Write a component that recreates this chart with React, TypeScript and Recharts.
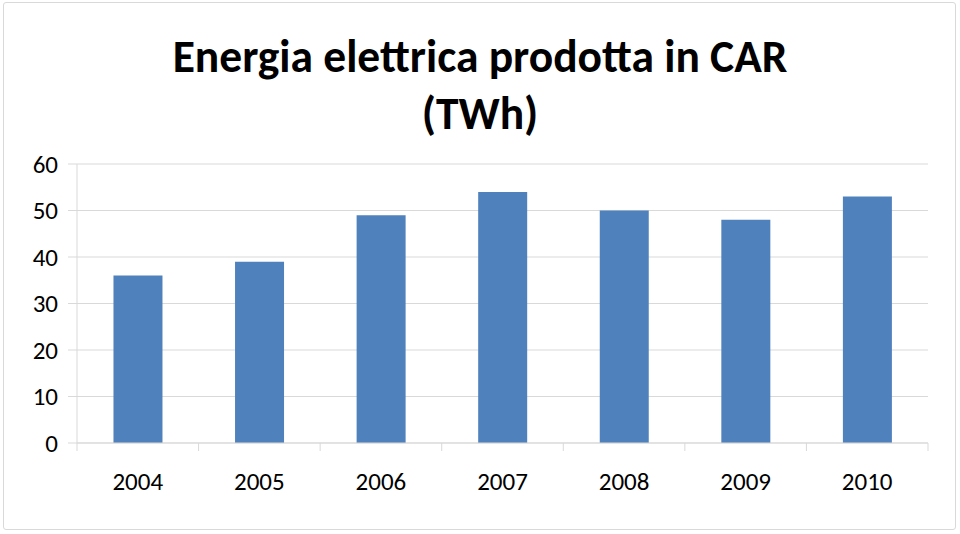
import React from 'react';
import { BarChart, Bar, XAxis, YAxis, CartesianGrid } from 'recharts';

const years = ['2004', '2005', '2006', '2007', '2008', '2009', '2010'];
const energyTWh = [36, 39, 49, 54, 50, 48, 53];
const yTicks = [0, 10, 20, 30, 40, 50, 60];
const titleLines = ['Energia elettrica prodotta in CAR', '(TWh)'];

const data = years.map((y, i) => ({ year: y, value: energyTWh[i] }));

const FONT = "Carlito, Lato, 'Open Sans', sans-serif";
const PLOT_LEFT = 77;
const PLOT_RIGHT = 928;
const STEP = (PLOT_RIGHT - PLOT_LEFT) / years.length;

const XTick = (props: any) => {
  const { x, y, payload, index } = props;
  const half = STEP / 2;
  return (
    <g>
      <line x1={x - half} y1={y - 8} x2={x - half} y2={y} stroke="#d9d9d9" strokeWidth={1} />
      {index === years.length - 1 && (
        <line x1={x + half} y1={y - 8} x2={x + half} y2={y} stroke="#d9d9d9" strokeWidth={1} />
      )}
      <text x={x} y={y + 39} textAnchor="middle" fill="#000" fontSize={25} fontFamily={FONT}>
        {payload.value}
      </text>
    </g>
  );
};

export default function App() {
  return (
    <div style={{ position: 'absolute', left: 0, top: 0, width: 960, height: 534, background: '#fff' }}>
      <div
        style={{
          position: 'absolute',
          left: 3,
          top: 2,
          width: 953,
          height: 528,
          border: '1px solid #d9d9d9',
          borderRadius: 3,
          boxSizing: 'border-box',
        }}
      />
      <div
        style={{
          position: 'absolute',
          left: 0,
          top: 28,
          width: 960,
          textAlign: 'center',
          fontFamily: FONT,
          fontWeight: 'bold',
          fontSize: 45.5,
          lineHeight: '57px',
          color: '#000',
        }}
      >
        {titleLines.map((t) => (
          <div key={t}>{t}</div>
        ))}
      </div>
      <div style={{ position: 'absolute', left: 0, top: 0 }}>
        <BarChart
          width={960}
          height={534}
          data={data}
          margin={{ top: 164, right: 960 - PLOT_RIGHT, bottom: 61, left: 0 }}
          barCategoryGap="30%"
        >
          <CartesianGrid vertical={false} stroke="#d9d9d9" strokeWidth={1} />
          <XAxis
            dataKey="year"
            height={30}
            axisLine={{ stroke: '#d9d9d9' }}
            tickLine={false}
            tick={<XTick />}
            interval={0}
          />
          <YAxis
            width={PLOT_LEFT}
            domain={[0, 60]}
            ticks={yTicks}
            axisLine={{ stroke: '#d9d9d9' }}
            tickLine={{ stroke: '#d9d9d9' }}
            tickSize={9}
            tickMargin={10}
            tick={{ fill: '#000', fontSize: 25, fontFamily: FONT }}
            interval={0}
          />
          <Bar dataKey="value" fill="#4f81bd" isAnimationActive={false} />
        </BarChart>
      </div>
    </div>
  );
}
